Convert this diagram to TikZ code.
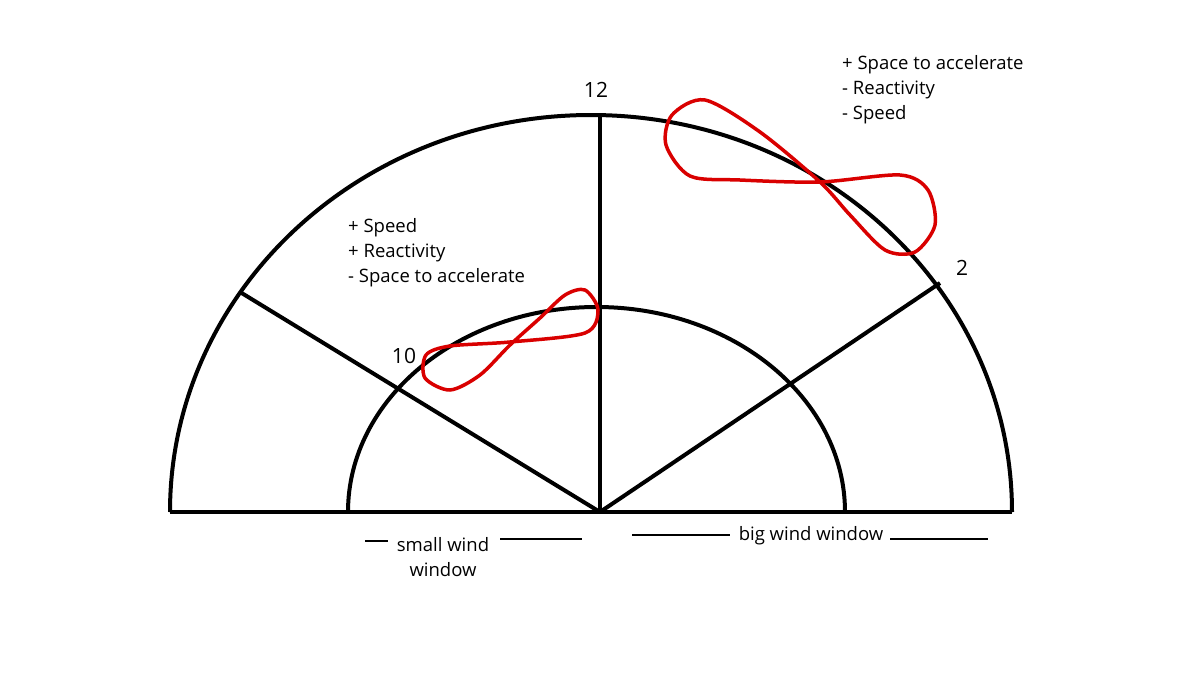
\documentclass[tikz,border=0pt]{standalone}
\usepackage{fontspec}
\setmainfont{Open Sans}
\begin{document}
\begin{tikzpicture}[x=1pt,y=-1pt,
  blk/.style={line width=4pt,black},
  loop/.style={line width=3.5pt,red!85!black},
  lbl/.style={font=\fontsize{18.5}{25}\selectfont,inner sep=0pt,align=left},
  num/.style={font=\fontsize{21}{24}\selectfont,inner sep=0pt}]
\useasboundingbox (0,0) rectangle (1200,675);
\coordinate (c) at (600,512);
\coordinate (l) at (170,512);
\coordinate (r) at (1012,512);
\coordinate (o10) at (240,292);
\coordinate (o12) at (600,115);
\coordinate (o2) at (940,283);
\draw[blk] (l) -- (r);
\draw[blk] (l) arc[start angle=180,end angle=360,x radius=421,y radius=397];
\draw[blk] (348,512) arc[start angle=180,end angle=360,x radius=248.5,y radius=205];
\draw[blk] (c) -- (o10);
\draw[blk] (c) -- (o12);
\draw[blk] (c) -- (o2);
\node[num] (n12) at (596,90) {12};
\node[num] (n2) at (962,268) {2};
\node[num] (n10) at (404,356) {10};
\node[lbl,anchor=north west] (t1) at (842,55) {+ Space to accelerate\\- Reactivity\\- Speed};
\node[lbl,anchor=north west] (t2) at (348,218) {+ Speed\\+ Reactivity\\- Space to accelerate};
\node[lbl,align=center] (sw) at (443,557) {small wind\\window};
\node[lbl] (bw) at (811,536) {big wind window};
\draw[line width=2pt] (365,541) -- (388,541);
\draw[line width=2pt] (500,539) -- (582,539);
\draw[line width=2pt] (632,535) -- (730,535);
\draw[line width=2pt] (890,539) -- (988,539);
\draw[loop] plot[smooth cycle,tension=0.5] coordinates {
 (820,182) (760,132) (705,100) (672,115) (666,145) (690,176) (740,180)
 (820,182) (900,175) (928,190) (935,225) (915,252) (885,250) (850,215)};
\draw[loop] plot[smooth cycle,tension=0.5] coordinates {
 (510,345) (480,375) (450,390) (425,378) (426,355) (450,346)
 (510,342) (585,333) (598,310) (585,290) (565,295) (540,318)};
\end{tikzpicture}
\end{document}
